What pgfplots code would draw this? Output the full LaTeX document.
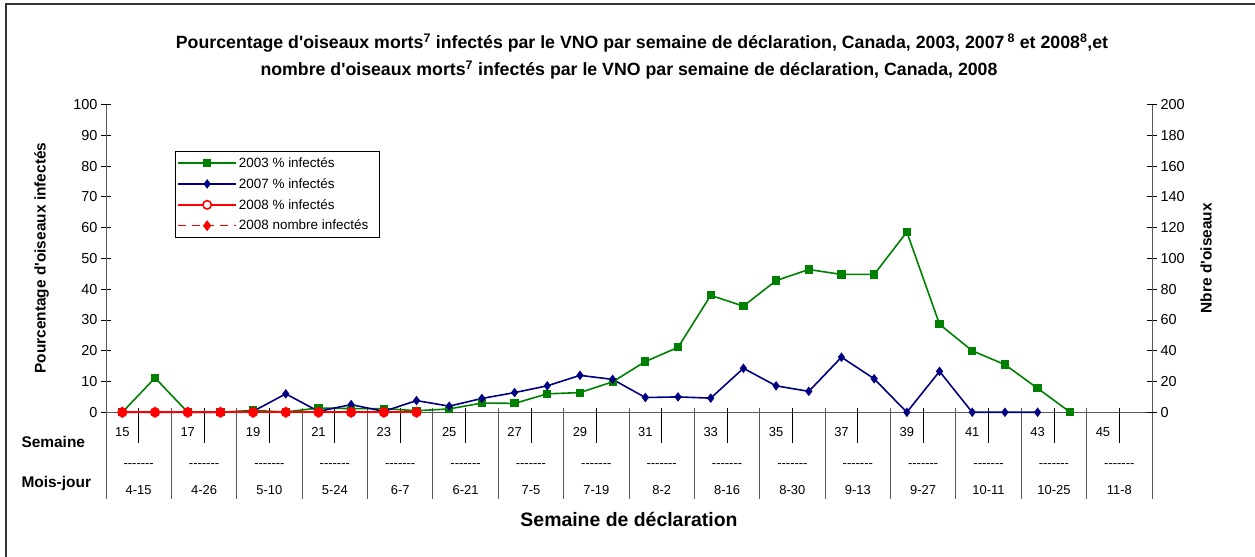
\documentclass[border=0pt]{standalone}
\usepackage{fontspec}
\setmainfont{Liberation Sans}
\usepackage{pgfplots}
\pgfplotsset{compat=1.18}

\definecolor{cgreen}{RGB}{0,128,0}
\definecolor{cblue}{RGB}{0,0,128}
\definecolor{cred}{RGB}{255,0,0}
\newcommand\fs[1]{\fontsize{#1}{#1}\selectfont}
\newcommand\dsh{-{}-{}-{}-{}-{}-{}-}
\newcommand\ap{\textquotesingle}
\newcommand\dl[1]{\dsh\\[14bp]#1}

\begin{document}
\begin{tikzpicture}[x=1bp,y=1bp]
\path[use as bounding box] (0,0) rectangle (1255,557);
\draw[line width=1.5bp, black!80] (6,0) -- (6,553) -- (1255,553);

\node[font=\bfseries\fs{17.8}] at (642,557-43) {Pourcentage d\ap oiseaux morts\textsuperscript{7} infectés par le VNO par semaine de déclaration, Canada, 2003, 2007\,\textsuperscript{8} et 2008\textsuperscript{8},et};
\node[font=\bfseries\fs{17.8}] at (629,557-70) {nombre d\ap oiseaux morts\textsuperscript{7} infectés par le VNO par semaine de déclaration, Canada, 2008};

\node[font=\bfseries\fs{15.5}, anchor=west] at (18,557-441.7) {Semaine};
\node[font=\bfseries\fs{15.5}, anchor=west] at (18,557-483.3) {Mois-jour};

\begin{axis}[
  at={(106bp,144.7bp)}, anchor=south west,
  scale only axis, width=1046bp, height=307.7bp,
  xmin=14.5, xmax=46.5, ymin=0, ymax=100,
  axis x line*=bottom, axis y line*=left,
  axis line style={-, black!65, line width=0.8bp},
  clip=false,
  /pgf/number format/assume math mode=true,
  ytick={0,10,...,100},
  ytick style={black, line width=0.8bp},
  y tick label style={font=\fs{14.5}},
  tick align=center, major tick length=10bp,
  xtick={15,17,...,45},
  xtick style={draw=none},
  x tick label style={font=\fs{13}, anchor=center, yshift=-15bp},
  extra x ticks={15.5,17.5,...,45.5},
  extra x tick labels={{\dl{4-15}},{\dl{4-26}},{\dl{5-10}},{\dl{5-24}},{\dl{6-7}},{\dl{6-21}},{\dl{7-5}},{\dl{7-19}},{\dl{8-2}},{\dl{8-16}},{\dl{8-30}},{\dl{9-13}},{\dl{9-27}},{\dl{10-11}},{\dl{10-25}},{\dl{11-8}}},
  extra x tick style={tick label style={align=center, yshift=-46.4bp}},
  ylabel={Pourcentage d\ap oiseaux infectés},
  ylabel style={font=\bfseries\fs{15.5}, at={(axis description cs:-0.0615,0.501)}, anchor=center},
  xlabel={Semaine de déclaration},
  xlabel style={font=\bfseries\fs{19.5}, at={(axis description cs:0.5,-0.3477)}, anchor=center},
  legend style={at={(rel axis cs:0.066,0.849)}, anchor=north west, draw=black, line width=0.6bp,
     font=\fs{13.5}, cells={anchor=west}, row sep=5.5bp, inner xsep=2bp, inner ysep=4bp},
  legend image code/.code={\draw[mark repeat=2,mark phase=2,#1] plot coordinates {(0bp,0bp) (29bp,0bp) (58bp,0bp)};},
]
% table lines
\pgfplotsinvokeforeach{15.5,17.5,...,45.5}{\draw[black, line width=0.8bp] (axis cs:#1,0) ++(0bp,4bp) -- ++(0bp,-34.4bp);}
\pgfplotsinvokeforeach{16.5,18.5,...,44.5}{\draw[black!65, line width=0.8bp] (axis cs:#1,0) ++(0bp,4bp) -- ++(0bp,-91bp);}
\pgfplotsinvokeforeach{14.5,46.5}{\draw[black!65, line width=0.8bp] (axis cs:#1,0) -- ++(0bp,-87bp);}

\addplot[cgreen, line width=1.6bp, mark=square*, mark size=3.3bp] coordinates {
(15,0) (16,11.2) (17,0) (18,0) (19,0.6) (20,0.1) (21,1.4) (22,1.2) (23,1.2) (24,0.5)
(25,1.1) (26,3.0) (27,2.9) (28,6.0) (29,6.4) (30,9.9) (31,16.5) (32,21.1) (33,38.0) (34,34.5)
(35,42.8) (36,46.4) (37,44.8) (38,44.8) (39,58.6) (40,28.6) (41,20.0) (42,15.5) (43,7.8) (44,0)};
\addlegendentry{2003 \% infectés}
\addplot[cblue, line width=1.6bp, mark=diamond*, mark size=3.5bp] coordinates {
(15,0) (16,0) (17,0) (18,0) (19,0.3) (20,6.0) (21,0.3) (22,2.5) (23,0.3) (24,3.8)
(25,2.0) (26,4.5) (27,6.4) (28,8.6) (29,12.0) (30,10.7) (31,4.8) (32,5.0) (33,4.6) (34,14.3)
(35,8.6) (36,6.8) (37,17.9) (38,10.9) (39,0) (40,13.3) (41,0) (42,0) (43,0)};
\addlegendentry{2007 \% infectés}
\addplot[cred, line width=1.6bp, mark=*, mark size=4.3bp, forget plot] coordinates {
(15,0) (16,0) (17,0) (18,0) (19,0) (20,0) (21,0) (22,0) (23,0) (24,0)};
\addlegendimage{cred, line width=1.6bp, mark=*, mark size=4.2bp, mark options={fill=white, line width=1.6bp}}
\addlegendentry{2008 \% infectés}
\addlegendimage{cred, line width=1.2bp, dash pattern=on 8bp off 6bp, mark=diamond*, mark size=4.5bp, mark options={solid}}
\addlegendentry{2008 nombre infectés\hspace*{7bp}}
\end{axis}

\begin{axis}[
  at={(106bp,144.7bp)}, anchor=south west,
  scale only axis, width=1046bp, height=307.7bp,
  xmin=14.5, xmax=46.5, ymin=0, ymax=200,
  axis x line=none, axis y line*=right,
  axis line style={-, black!65, line width=0.8bp},
  clip=false,
  /pgf/number format/assume math mode=true,
  ytick={0,20,...,200},
  ytick style={black, line width=0.8bp},
  y tick label style={font=\fs{14.5}},
  tick align=center, major tick length=10bp,
  ylabel={Nbre d\ap oiseaux},
  ylabel style={font=\bfseries\fs{15.5}, at={(axis description cs:1.0516,0.501)}, anchor=center},
]
\addplot[cred, line width=1.6bp, dash pattern=on 8bp off 6bp, mark=diamond*, mark size=4.5bp, mark options={solid}] coordinates {
(15,0) (16,0) (17,0) (18,0) (19,0) (20,0) (21,0) (22,0) (23,0) (24,0)};
\end{axis}
\end{tikzpicture}
\end{document}
